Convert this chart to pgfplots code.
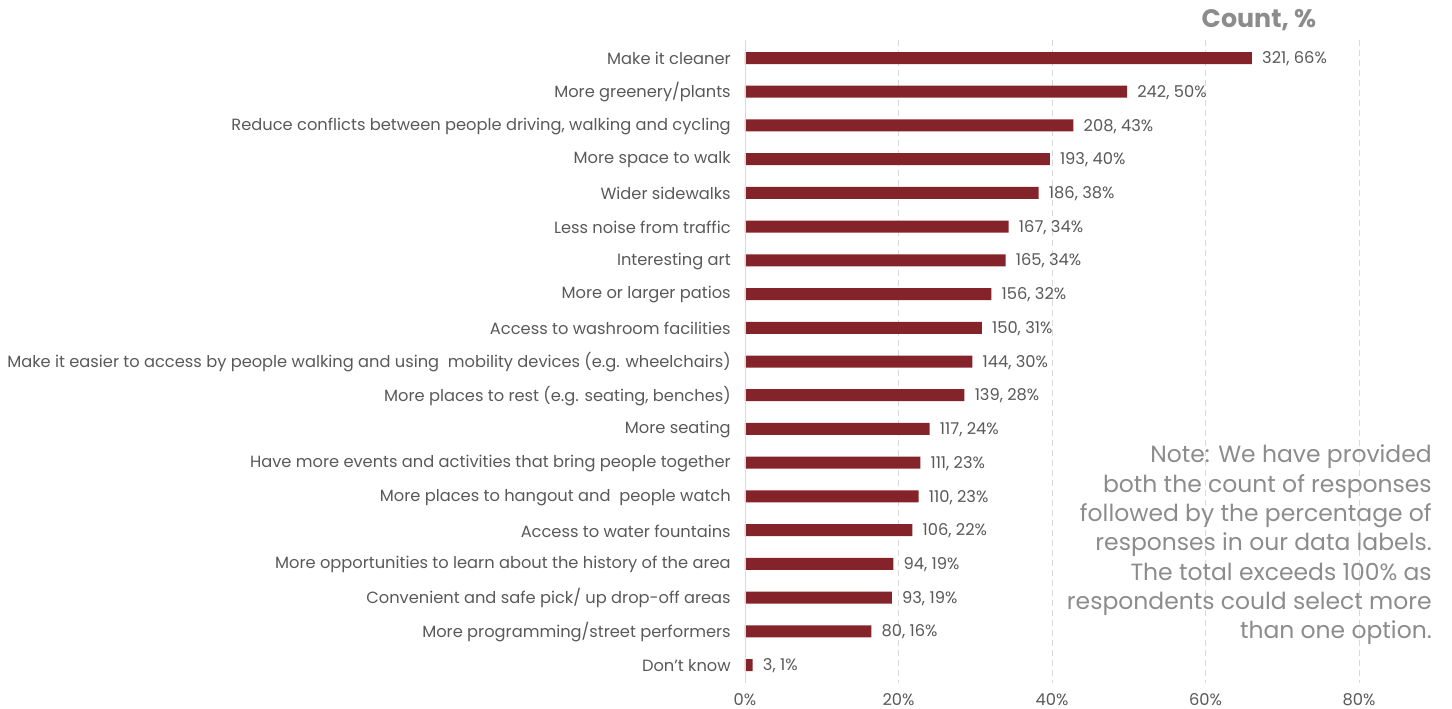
\documentclass[border=0pt]{standalone}
\usepackage{pgfplots}
\pgfplotsset{compat=1.18}
\usepackage{pgfplotstable}
\usepackage{fontspec}
\setmainfont{Poppins}
\definecolor{barred}{RGB}{133,35,42}
\definecolor{txt}{RGB}{89,89,89}
\definecolor{notec}{RGB}{140,140,140}
\definecolor{gridc}{RGB}{217,217,217}
\pgfplotstableread{
y pct cnt pc
0 66.05 321 66
1 49.79 242 50
2 42.80 208 43
3 39.71 193 40
4 38.27 186 38
5 34.36 167 34
6 33.95 165 34
7 32.10 156 32
8 30.86 150 31
9 29.63 144 30
10 28.60 139 28
11 24.07 117 24
12 22.84 111 23
13 22.63 110 23
14 21.81 106 22
15 19.34 94 19
16 19.14 93 19
17 16.46 80 16
18 1.00 3 1
}\data
\begin{document}
\begin{tikzpicture}
\path[use as bounding box] (-558.75pt,-19.5pt) rectangle (530.25pt,512.25pt);
\begin{axis}[
 at={(0,0)}, anchor=south west,
 scale only axis, width=518.06pt, height=482.25pt,
 xbar, bar width=9pt, bar shift=0pt,
 xmin=0, xmax=90, ymin=-0.534, ymax=18.533, y dir=reverse,
 axis line style={draw=none},
 major tick length=0pt,
 /pgf/number format/assume math mode=true,
 xtick={0,20,40,60,80}, xticklabels={0\%,20\%,40\%,60\%,80\%},
 ytick={0,...,18},
 yticklabels={Make it cleaner, More greenery/plants, {Reduce conflicts between people driving, walking and cycling}, More space to walk, Wider sidewalks, Less noise from traffic, Interesting art, More or larger patios, Access to washroom facilities, Make it easier to access by people walking and using\ \ mobility devices (e.g. wheelchairs), {More places to rest (e.g. seating, benches)}, More seating, Have more events and activities that bring people together, More places to hangout and\ \ people watch, Access to water fountains, More opportunities to learn about the history of the area, Convenient and safe pick/ up drop-off areas, More programming/street performers, Don't know},
 xmajorgrids, grid style={gridc, dash pattern=on 4.5pt off 3pt},
 tick label style={font=\fontsize{12.2}{14}\selectfont, text=txt},
 yticklabel style={inner sep=0pt, xshift=-10.5pt, yshift=-0.6pt},
 xticklabel style={inner sep=0pt, yshift=-8pt},
 visualization depends on={\thisrow{cnt}\as\cnt},
 visualization depends on={\thisrow{pc}\as\pc},
 nodes near coords={\pgfmathprintnumber[assume math mode=true]{\cnt}, \pgfmathprintnumber[assume math mode=true]{\pc}\%},
 every node near coord/.append style={anchor=west, inner sep=0pt, xshift=7.5pt, yshift=-0.6pt, font=\fontsize{12.2}{14}\selectfont, text=txt},
 clip=false,
]
\addplot[fill=barred, draw=none] table[x=pct,y=y]{\data};
\draw[gridc] (axis cs:0,-0.534) -- (axis cs:0,18.533);
\end{axis}
\node[font=\bfseries\fontsize{19}{24}\selectfont, text=notec] at (385.5pt,497.25pt) {Count, \%};
\node[anchor=east, align=right, inner sep=0pt, font=\fontsize{17.6}{22}\selectfont, text=notec] at (515.25pt,103.5pt) {Note: We have provided\\both the count of responses\\followed by the percentage of\\responses in our data labels.\\The total exceeds 100\% as\\respondents could select more\\than one option.};
\end{tikzpicture}
\end{document}
